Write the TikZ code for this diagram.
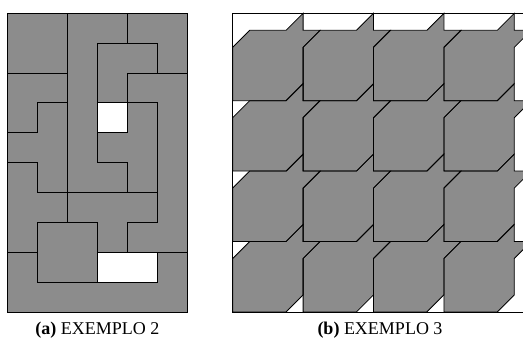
\documentclass[tikz,border=0pt]{standalone}
\usepackage{fontspec}
\setmainfont{Liberation Serif}
\definecolor{tilegray}{RGB}{140,140,140}
\tikzset{
  gridline/.style={line width=0.9pt, black, line cap=rect},
  tileline/.style={line width=0.8pt, black, line join=miter},
  caption/.style={font=\fontsize{18}{21}\selectfont, anchor=base, inner sep=0pt}
}
\newcommand{\tilepath}{(0,70.4) -- (53.4,70.4) -- (70.4,53.4) -- (70.4,17) -- (87.4,0) -- (70.4,0) -- (70.4,-17) -- (53.4,0) -- (17,0) -- (0,17) -- cycle}
\begin{document}
\begin{tikzpicture}[x=1pt,y=-1pt]
\useasboundingbox (0,0) rectangle (523,345);
% ---------- panel (a) ----------
\begin{scope}[xshift=7.3pt, yshift=-13.3pt, x=30pt, y=-29.87pt]
  \fill[tilegray] (0,0) rectangle (6,10);
  \fill[white] (3,3) rectangle (4,4);
  \fill[white] (3,8) rectangle (5,9);
  % vertical
  \draw[gridline] (2,0)--(2,7);
  \draw[gridline] (4,0)--(4,1) (4,2)--(4,4) (4,5)--(4,6) (4,7)--(4,8);
  \draw[gridline] (3,1)--(3,5) (3,7)--(3,9);
  \draw[gridline] (5,1)--(5,2) (5,3)--(5,7) (5,8)--(5,9);
  \draw[gridline] (1,3)--(1,4) (1,5)--(1,6) (1,7)--(1,9);
  % horizontal
  \draw[gridline] (3,1)--(5,1);
  \draw[gridline] (0,2)--(2,2) (4,2)--(6,2);
  \draw[gridline] (1,3)--(2,3) (3,3)--(5,3);
  \draw[gridline] (0,4)--(1,4) (3,4)--(4,4);
  \draw[gridline] (0,5)--(1,5) (3,5)--(4,5);
  \draw[gridline] (1,6)--(5,6);
  \draw[gridline] (1,7)--(3,7) (4,7)--(5,7);
  \draw[gridline] (0,8)--(1,8) (3,8)--(6,8);
  \draw[gridline] (1,9)--(5,9);
  \draw[gridline] (0,0) rectangle (6,10);
\end{scope}
% ---------- panel (b) ----------
\begin{scope}
  \clip (231,12) rectangle (523,314);
  \foreach \i in {0,...,3}{
    \foreach \j in {0,...,3}{
      \fill[tilegray, shift={({232.7+70.4*\i},{30.3+70.4*\j})}] \tilepath;
    }
  }
  \foreach \i in {0,...,3}{
    \foreach \j in {0,...,3}{
      \draw[tileline, shift={({232.7+70.4*\i},{30.3+70.4*\j})}] \tilepath;
    }
  }
  \draw[tileline] (232.7,13.3) rectangle (531.5,312);
\end{scope}
% ---------- captions ----------
\node[caption] (capa) at (97.3,334) {\textbf{(a)} EXEMPLO 2};
\node[caption] (capb) at (380,334) {\textbf{(b)} EXEMPLO 3};
\end{tikzpicture}
\end{document}
